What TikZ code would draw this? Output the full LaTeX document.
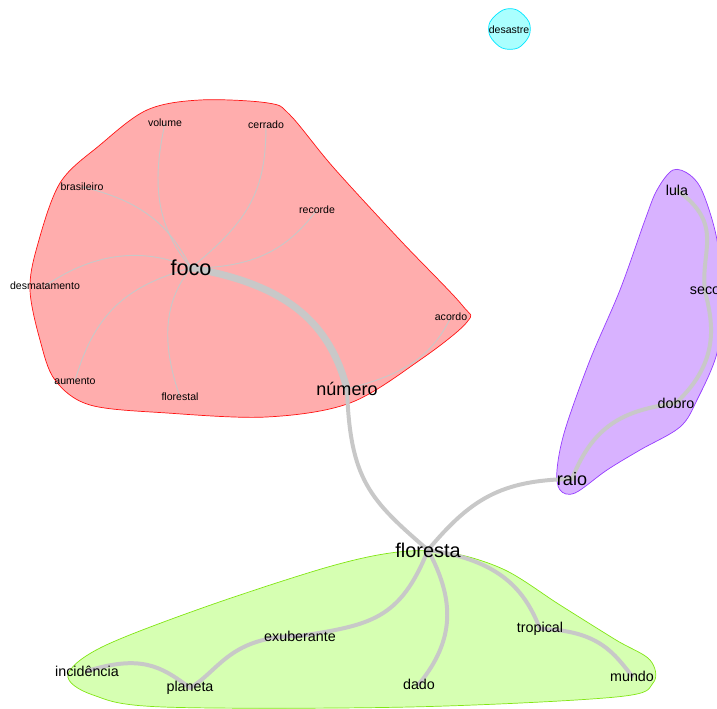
\documentclass[tikz,border=0pt]{standalone}
\usepackage{fontspec}
\setmainfont{Liberation Sans}
\usetikzlibrary{backgrounds}
\definecolor{linkgray}{RGB}{200,200,200}
\definecolor{redfill}{RGB}{255,173,173}
\definecolor{redline}{RGB}{255,20,20}
\definecolor{purplefill}{RGB}{216,178,255}
\definecolor{purpleline}{RGB}{150,60,255}
\definecolor{greenfill}{RGB}{214,255,178}
\definecolor{greenline}{RGB}{130,230,20}
\definecolor{cyanfill}{RGB}{170,255,255}
\definecolor{cyanline}{RGB}{0,229,255}

\begin{document}
\begin{tikzpicture}[x=0.03cm, y=-0.03cm,
  smallword/.style={font=\fontsize{9}{10}\selectfont, inner sep=0pt},
  midword/.style={font=\fontsize{12.2}{14}\selectfont, inner sep=0pt},
  bigword/.style={font=\fontsize{15.4}{18}\selectfont, inner sep=0pt},
  hugeword/.style={font=\fontsize{18}{21}\selectfont, inner sep=0pt},
  link/.style={draw=linkgray, line width=3.4pt, line cap=round},
  heavylink/.style={draw=linkgray, line width=6pt, line cap=round},
  thinlink/.style={draw=linkgray, line width=0.8pt},
  hull/.style={line width=0.6pt, smooth cycle, tension=0.55}]
  \useasboundingbox (0,0) rectangle (717,709);

  % Isolated word
  \node[smallword] (desastre) at (509,30) {desastre};

  % Red group
  \node[hugeword, font=\fontsize{18.5}{21}\selectfont] (foco) at (191,268) {foco};
  \node[smallword] (volume) at (165,123) {volume};
  \node[smallword] (cerrado) at (266,125) {cerrado};
  \node[smallword] (brasileiro) at (82,187) {brasileiro};
  \node[smallword] (recorde) at (317,210) {recorde};
  \node[smallword] (desmatamento) at (45,286) {desmatamento};
  \node[smallword] (acordo) at (451,317) {acordo};
  \node[smallword] (aumento) at (75,381) {aumento};
  \node[smallword] (florestal) at (180,397) {florestal};
  \node[bigword] (numero) at (347,389) {número};

  % Purple group
  \node[midword] (lula) at (677,190) {lula};
  \node[midword] (seco) at (705,291) {seco};
  \node[midword] (dobro) at (676,403) {dobro};
  \node[bigword] (raio) at (572,479) {raio};

  % Green group
  \node[hugeword, font=\fontsize{17}{20}\selectfont] (floresta) at (428,550) {floresta};
  \node[midword] (exuberante) at (300,636) {exuberante};
  \node[midword] (tropical) at (540,629) {tropical};
  \node[midword] (incidencia) at (87,671) {incidência};
  \node[midword] (planeta) at (190,688) {planeta};
  \node[midword] (dado) at (419,684) {dado};
  \node[midword] (mundo) at (632,676) {mundo};

  \begin{scope}[on background layer]
    % Group hulls
    \draw[hull, draw=cyanline, fill=cyanfill] plot coordinates {(503,10) (517,10) (529,22) (529,36) (518,48) (502,48) (490,36) (490,22)};
    \draw[hull, draw=redline, fill=redfill] plot coordinates {(147,110) (200,100) (268,103) (290,115) (333,167) (400,240) (462,305) (467,322) (420,360) (350,403) (267,417) (167,413) (90,405) (55,380) (40,340) (30,290) (37,247) (60,183) (100,145)};
    \draw[hull, draw=purpleline, fill=purplefill] plot coordinates {(673,170) (690,175) (703,193) (717,240) (722,300) (717,353) (697,400) (680,427) (640,450) (607,470) (575,493) (560,490) (557,470) (565,430) (590,360) (620,290) (645,220) (657,190)};
    \draw[hull, draw=greenline, fill=greenfill] plot coordinates {(398,552) (451,553) (505,570) (560,605) (616,640) (650,660) (653,683) (616,697) (410,707) (163,707) (93,695) (68,675) (102,647) (205,607) (328,567)};

    % Links around foco
    \draw[thinlink] (foco.center) .. controls (150,220) and (155,170) .. (volume.center);
    \draw[thinlink] (foco.center) .. controls (250,220) and (266,190) .. (cerrado.center);
    \draw[thinlink] (brasileiro.center) .. controls (140,200) and (170,225) .. (foco.center);
    \draw[thinlink] (foco.center) .. controls (260,268) and (290,245) .. (recorde.center);
    \draw[thinlink] (desmatamento.center) .. controls (90,255) and (140,245) .. (foco.center);
    \draw[thinlink] (aumento.center) .. controls (95,310) and (130,285) .. (foco.center);
    \draw[thinlink] (florestal.center) .. controls (160,340) and (165,300) .. (foco.center);
    \draw[thinlink] (numero.center) .. controls (400,375) and (430,360) .. (acordo.center);
    \draw[heavylink] (foco.center) .. controls (290,285) and (330,325) .. (numero.center);

    % Links between groups
    \draw[link] (numero.center) .. controls (350,480) and (370,500) .. (floresta.center);
    \draw[link] (floresta.center) .. controls (470,500) and (500,480) .. (raio.center);

    % Purple chain
    \draw[link] (raio.center) .. controls (595,420) and (630,410) .. (dobro.center);
    \draw[link] (dobro.center) .. controls (722,360) and (712,320) .. (seco.center);
    \draw[link] (seco.center) .. controls (700,250) and (725,225) .. (lula.center);

    % Green links
    \draw[link] (floresta.center) .. controls (400,620) and (370,625) .. (exuberante.center);
    \draw[link] (exuberante.center) .. controls (230,636) and (220,670) .. (planeta.center);
    \draw[link] (incidencia.center) .. controls (140,655) and (160,665) .. (planeta.center);
    \draw[link] (floresta.center) .. controls (455,600) and (455,640) .. (dado.center);
    \draw[link] (floresta.center) .. controls (500,560) and (525,590) .. (tropical.center);
    \draw[link] (tropical.center) .. controls (600,630) and (615,655) .. (mundo.center);
  \end{scope}
\end{tikzpicture}
\end{document}
